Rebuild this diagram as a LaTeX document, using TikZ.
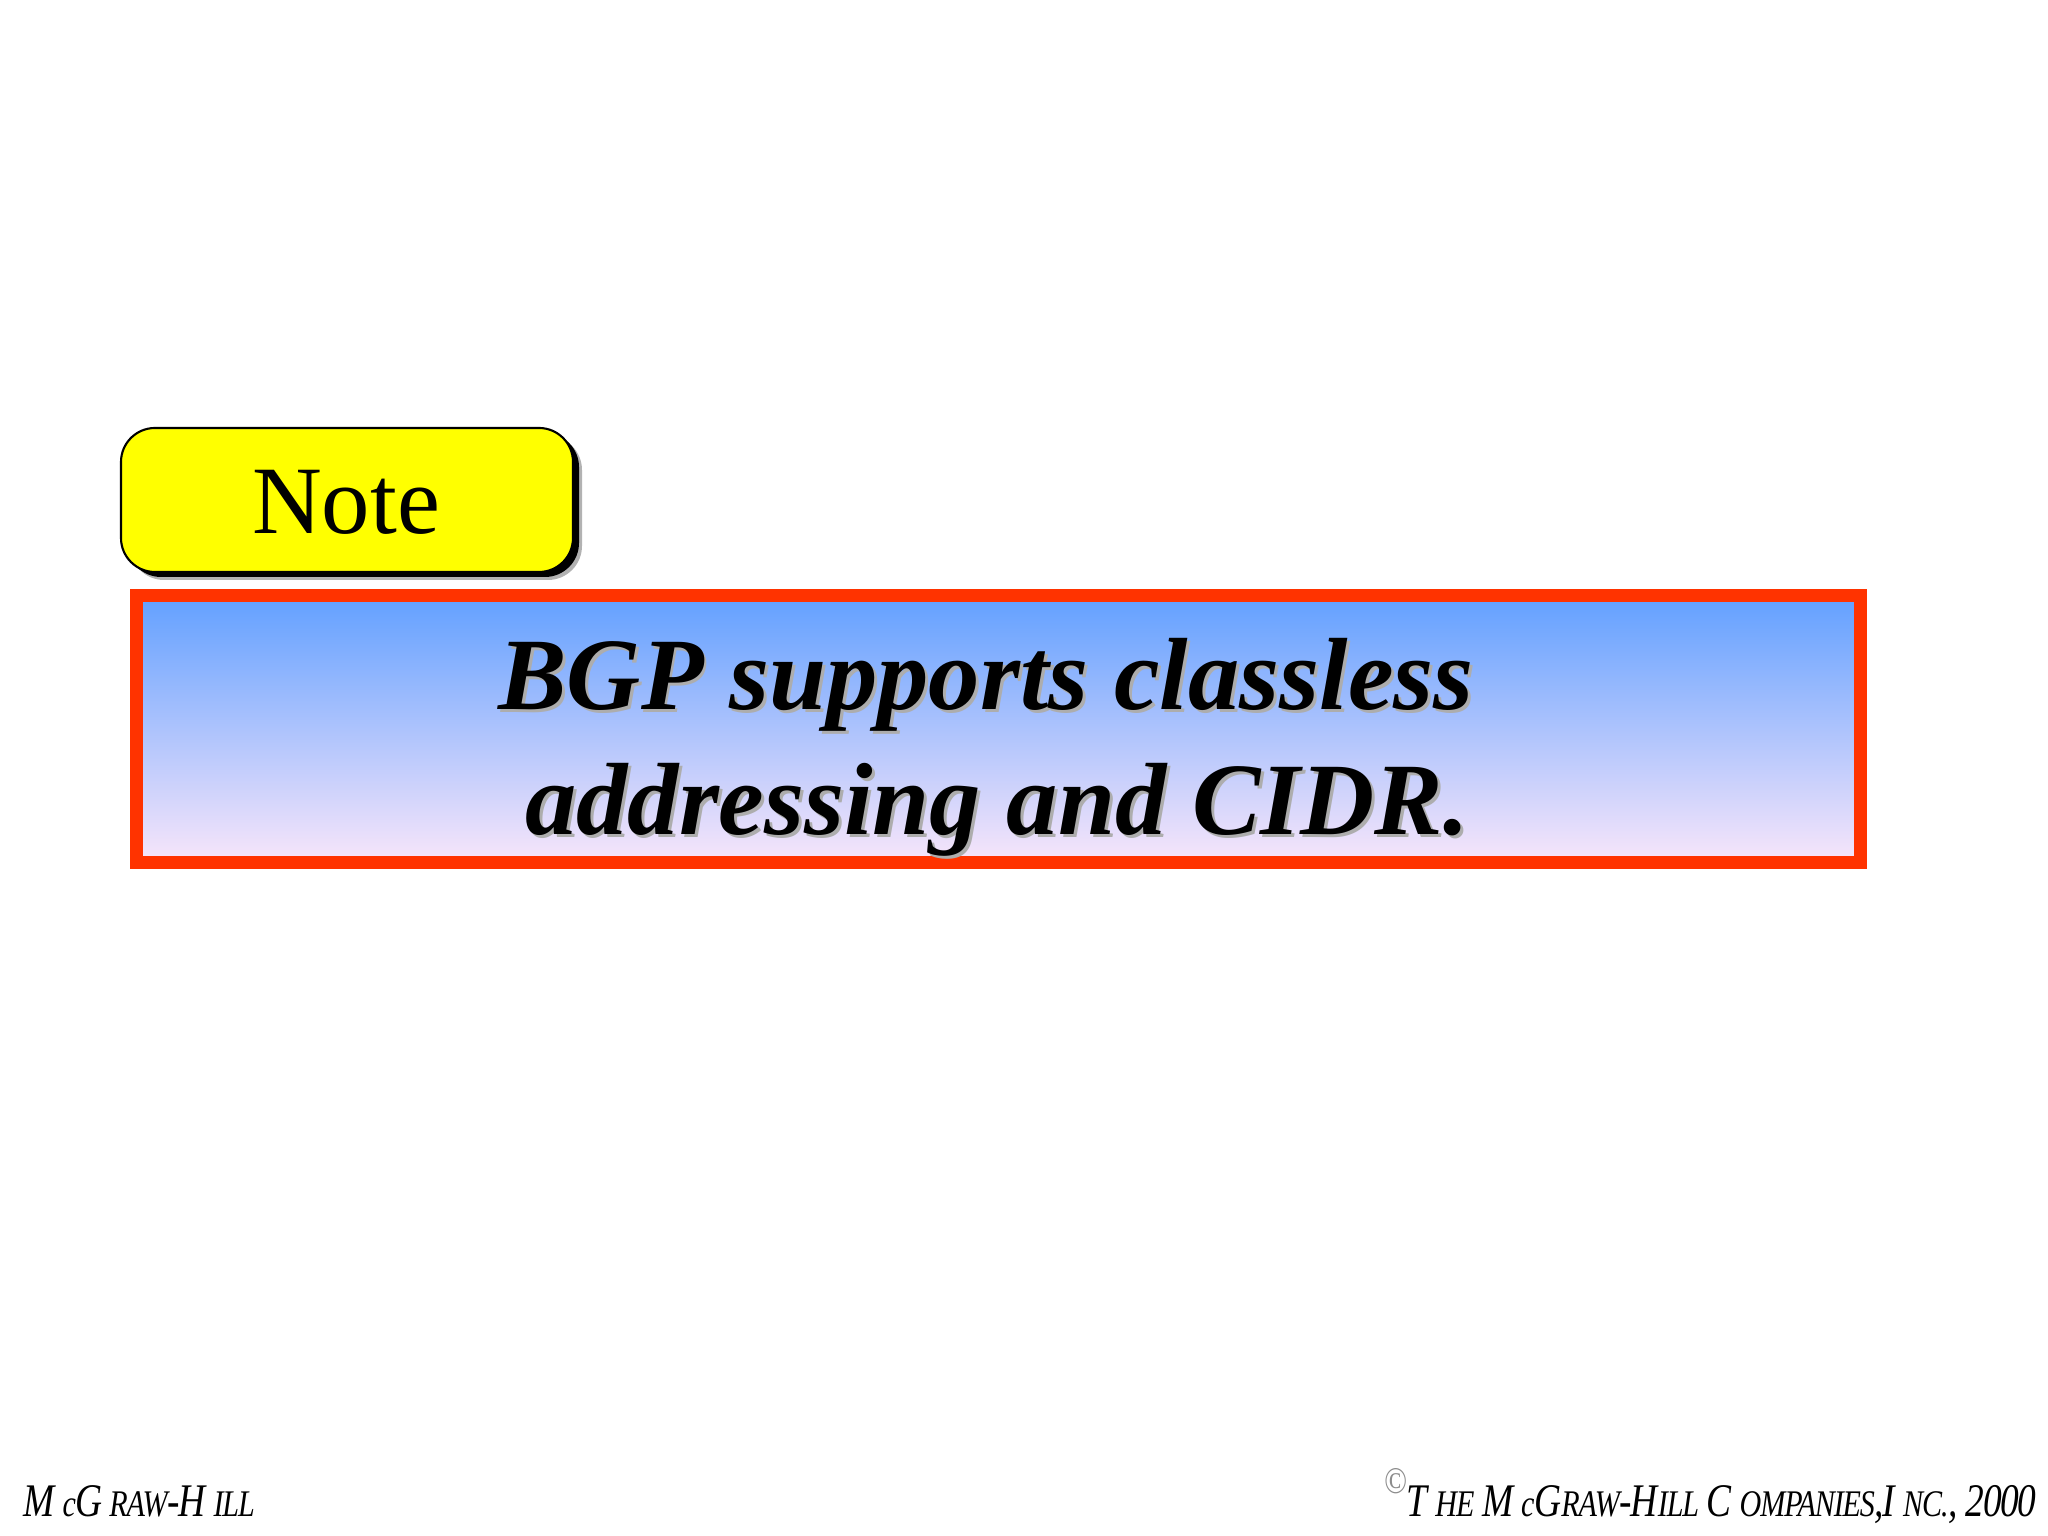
\documentclass[tikz,border=0pt]{standalone}
\usepackage{fontspec}
\setmainfont{Liberation Serif}
\newfontfamily\footfont[FakeStretch=0.8,LetterSpace=-3,ItalicFont={Liberation Serif Italic}]{Liberation Serif}
\usepackage{tikz}
\definecolor{noteyellow}{HTML}{FFFF00}
\definecolor{boxred}{HTML}{FF3300}
\definecolor{boxblue}{HTML}{62A0FF}
\definecolor{boxpink}{HTML}{F8E6FA}
\newcommand{\smallpart}[1]{{\fontsize{10.7}{12}\selectfont #1}}
\tikzset{
    notebox/.style={rectangle, rounded corners=0.34cm, minimum width=4.52cm, minimum height=1.44cm, inner sep=0pt},
    claimtext/.style={align=center, inner sep=0pt, font=\fontsize{29.2}{35.6}\selectfont\bfseries\itshape},
    foottext/.style={inner sep=0pt, font=\footfont\itshape\fontsize{13.3}{15}\selectfont}
}

\begin{document}
\begin{tikzpicture}
        \useasboundingbox (0, 0) rectangle (20.48, 15.36);

        \node[notebox, fill=black!30] at (3.56, 10.28) (note_grey) {};
        \node[notebox, fill=black] at (3.53, 10.31) (note_back) {};
        \node[notebox, draw=black, line width=0.6pt, fill=noteyellow] at (3.47, 10.36) (note) {};
        \node[anchor=base, inner sep=0pt, font=\fontsize{27.5}{30}\selectfont] at (3.46, 10.02) (note_text) {Note};

        \node[rectangle, draw=boxred, line width=0.13cm, top color=boxblue, bottom color=boxpink, minimum width=17.24cm, minimum height=2.67cm, inner sep=0pt] at (9.985, 8.065) (claim) {};
        \node[claimtext, text=black!32] at (9.89, 7.86) (claim_shadow) {BGP supports classless\\\hspace*{0.22cm}addressing and CIDR.};
        \node[claimtext] at (claim_shadow.center) [xshift=-0.03cm, yshift=0.03cm] (claim_text) {BGP supports classless\\\hspace*{0.22cm}addressing and CIDR.};

        \node[foottext, anchor=base west] at (0.23, 0.19) (foot_left) {M\,\smallpart{c}G\smallpart{\,RAW}-H\,\smallpart{ILL}};
        \node[foottext, anchor=base east] at (20.37, 0.19) (foot_right) {\textcolor{black!45}{\raisebox{1.1ex}{\smallpart{\textcopyright}}}T\,\smallpart{HE}\,M\,\smallpart{c}G\smallpart{RAW}-H\smallpart{ILL}\,C\,\smallpart{OMPANIES},I\,\smallpart{NC.},\,2000};
    \end{tikzpicture}
\end{document}
